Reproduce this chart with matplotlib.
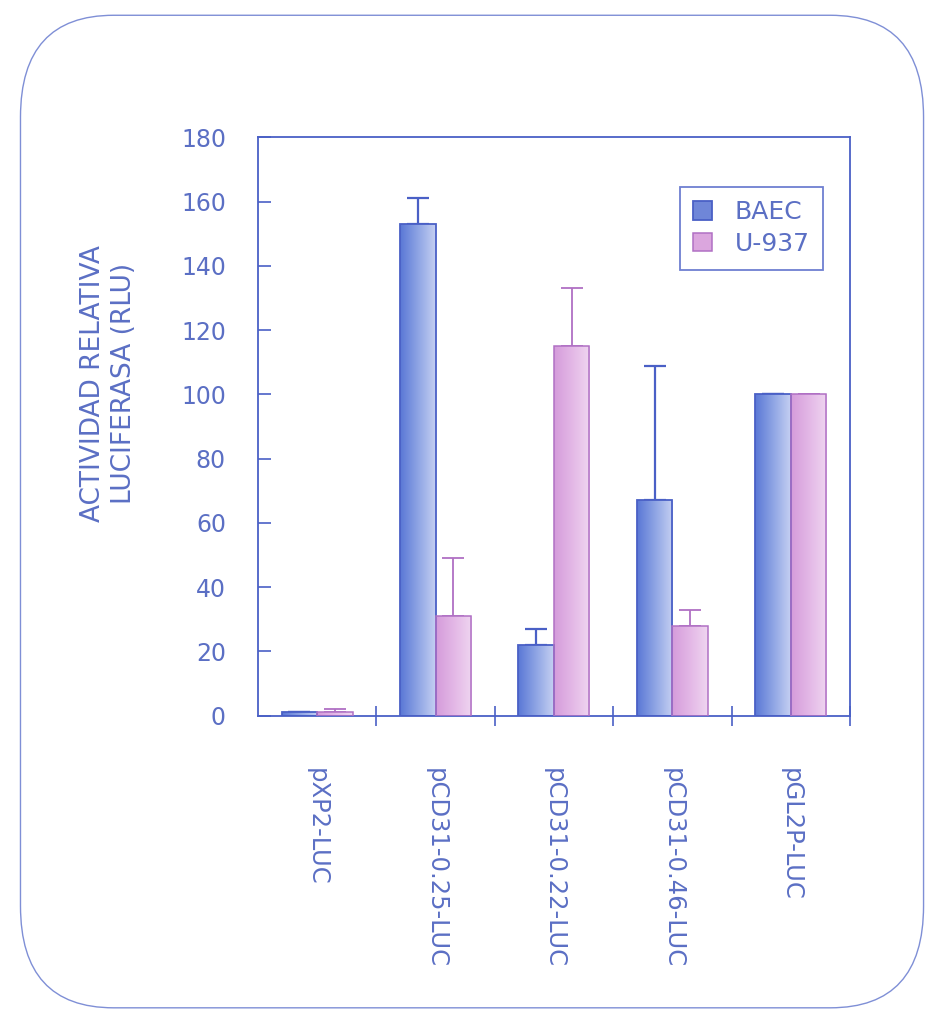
import numpy as np
import matplotlib

matplotlib.use("Agg")
import matplotlib.pyplot as plt
from matplotlib.patches import FancyBboxPatch
from matplotlib.colors import LinearSegmentedColormap

plt.rcParams["font.family"] = ["DejaVu Sans"]

categories = ["pXP2-LUC", "pCD31-0.25-LUC", "pCD31-0.22-LUC", "pCD31-0.46-LUC", "pGL2P-LUC"]
baec = [1, 153, 22, 67, 100]
baec_err = [0, 8, 5, 42, 0]
u937 = [1, 31, 115, 28, 100]
u937_err = [1, 18, 18, 5, 0]

text_col = "#5b6fc4"
blue_edge = "#4a60c6"
pink_edge = "#b070c4"

fig = plt.figure(figsize=(9.31, 10.18), dpi=100)
fig.patches.append(FancyBboxPatch((0.022, 0.010), 0.970, 0.975, boxstyle="round,pad=0,rounding_size=0.1",
                                  transform=fig.transFigure, fill=False, edgecolor="#7f8fd6", linewidth=1.0))
ax = fig.add_axes([0.277, 0.297, 0.636, 0.568])

x = np.arange(len(categories))
w = 0.3
b1 = ax.bar(x - w / 2, baec, w, color="#7d93dc", edgecolor=blue_edge, linewidth=1.3, zorder=2)
b2 = ax.bar(x + w / 2, u937, w, color="#e2b2e4", edgecolor=pink_edge, linewidth=1.1, zorder=2)

# gradient fill inside each bar
cm_blue = LinearSegmentedColormap.from_list("b", ["#5a78d6", "#8ea4e4", "#c4cff2"])
cm_pink = LinearSegmentedColormap.from_list("p", ["#d59cdb", "#e3b7e6", "#efd5f0"])
grad = np.linspace(0, 1, 64).reshape(1, -1)
for bars, cm in ((b1, cm_blue), (b2, cm_pink)):
    for p in bars:
        x0, y0 = p.get_x(), p.get_y()
        ax.imshow(grad, cmap=cm, aspect="auto", extent=(x0, x0 + p.get_width(), y0, y0 + p.get_height()),
                  zorder=2.5, interpolation="bilinear")
        p.set_zorder(3)
        p.set_facecolor("none")

ax.errorbar(x - w / 2, baec, yerr=[np.zeros(len(x)), baec_err], fmt="none", ecolor=blue_edge,
            elinewidth=1.6, capsize=8, capthick=1.6, zorder=1)
ax.errorbar(x + w / 2, u937, yerr=[np.zeros(len(x)), u937_err], fmt="none", ecolor=pink_edge,
            elinewidth=1.3, capsize=8, capthick=1.3, zorder=1)

ax.set_xlim(-0.5, 4.5)
ax.set_ylim(0, 180)
ax.set_yticks(np.arange(0, 181, 20))
ax.set_xticks(np.arange(0.5, 5, 1))
ax.set_xticklabels([])
ax.set_xticks(x, minor=True)
ax.set_xticklabels(categories, minor=True, rotation=270, fontsize=17.5, color=text_col, va="top")
ax.tick_params(axis="x", which="minor", length=0, pad=38)
ax.tick_params(axis="x", which="major", direction="inout", length=14, color=blue_edge, width=1.2)
ax.tick_params(axis="y", direction="in", length=9, color=blue_edge, width=1.2, labelsize=17,
               labelcolor=text_col, pad=23)
for s in ax.spines.values():
    s.set_color(blue_edge)
    s.set_linewidth(1.3)

ax.set_ylabel("ACTIVIDAD RELATIVA\nLUCIFERASA (RLU)", fontsize=19, color=text_col,
              linespacing=1.25)
ax.yaxis.set_label_coords(-0.205, 0.575)

leg = ax.legend([b1, b2], ["BAEC", "U-937"], loc="upper right", bbox_to_anchor=(0.955, 0.915),
                fontsize=18, frameon=True, fancybox=False, handlelength=0.75, handleheight=0.75,
                borderpad=0.55, labelspacing=0.3, handletextpad=0.9, borderaxespad=0)
for t in leg.get_texts():
    t.set_color(text_col)
leg.get_frame().set_edgecolor(blue_edge)
leg.get_frame().set_linewidth(1.3)
leg.legend_handles[0].set_facecolor("#6f86d8")
leg.legend_handles[1].set_facecolor("#dba6de")

fig.savefig("out.png", dpi=100)
